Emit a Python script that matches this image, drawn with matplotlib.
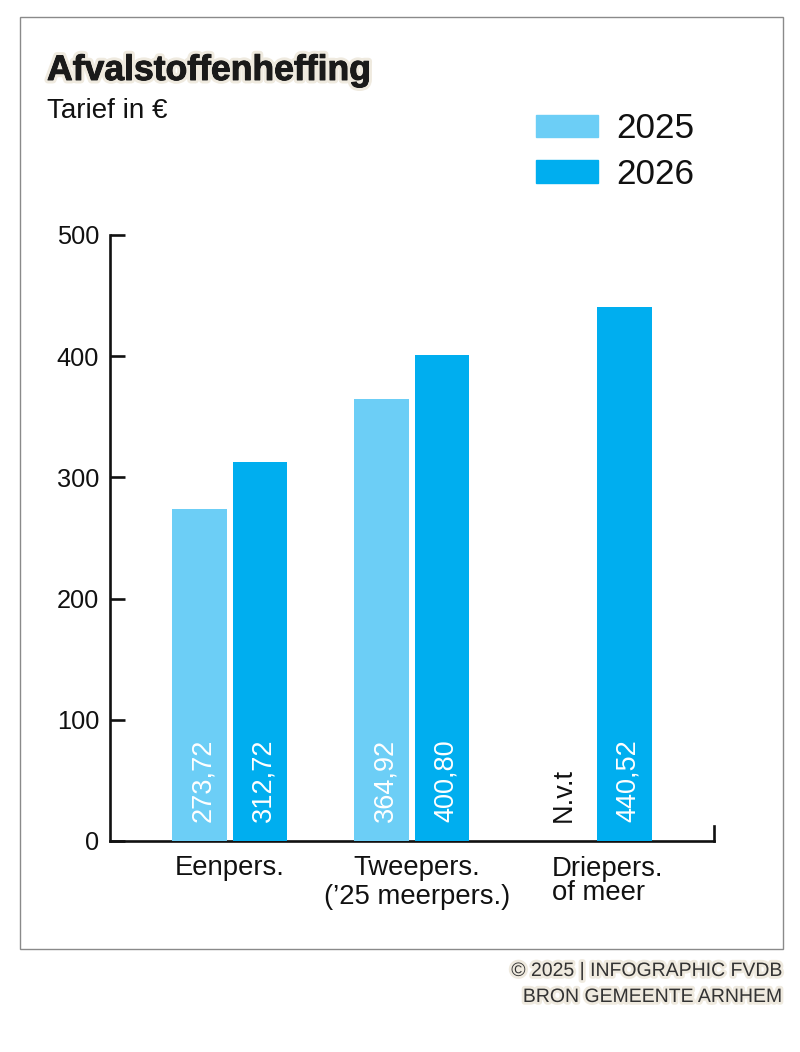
import matplotlib
matplotlib.use("Agg")
import matplotlib.pyplot as plt
import matplotlib.patheffects as pe
from matplotlib.patches import Rectangle

plt.rcParams['font.family'] = ['Liberation Sans', 'DejaVu Sans']

categories = ["Eenpers.", "Tweepers.\n(’25 meerpers.)", "Driepers.\nof meer"]
series_names = ["2025", "2026"]
values_2025 = [273.72, 364.92, None]
values_2026 = [312.72, 400.80, 440.52]
labels_2025 = ["273,72", "364,92", "N.v.t"]
labels_2026 = ["312,72", "400,80", "440,52"]
y_ticks = [0, 100, 200, 300, 400, 500]
title = "Afvalstoffenheffing"
subtitle = "Tarief in €"
footer = ["© 2025 | INFOGRAPHIC FVDB", "BRON GEMEENTE ARNHEM"]

C25, C26 = "#6ccef6", "#00aeef"
W, H = 800, 1052
fig = plt.figure(figsize=(W/100, H/100), dpi=100, facecolor="white")
fig.add_artist(Rectangle((20/W, 1-948.5/H), 763/W, 931.5/H, fill=False, ec="#8a8a8a", lw=1.0,
                         transform=fig.transFigure))

L, R, T, B = 109.5, 714, 235, 841
ax = fig.add_axes([L/W, 1-B/H, (R-L)/W, (B-T)/H])
ax.patch.set_alpha(0)
ax.set_xlim(-0.66, 2.66)
ax.set_ylim(0, 500)

bw, off = 0.30, 0.167
x = range(len(categories))
for i in x:
    has_25 = values_2025[i] is not None
    if has_25:
        ax.bar(i-off, values_2025[i], bw, color=C25, zorder=3, clip_on=False)
    ax.bar(i+off, values_2026[i], bw, color=C26, zorder=3, clip_on=False)
    ax.text(i-off+(0.021 if has_25 else 0.0), 15.5, labels_2025[i], rotation=90, ha="center", va="bottom", fontsize=19.5,
            color="white" if has_25 else "#111111", zorder=4)
    ax.text(i+off+0.021, 15.5, labels_2026[i], rotation=90, ha="center", va="bottom", fontsize=19.5,
            color="white", zorder=4)

ax.spines["top"].set_visible(False)
ax.spines["right"].set_bounds(0, 12)
for s in ("left", "bottom", "right"):
    ax.spines[s].set_linewidth(1.9)
    ax.spines[s].set_color("#111111")
    ax.spines[s].set_zorder(2)
ax.set_yticks(y_ticks)
ax.tick_params(axis="y", direction="in", length=11, width=1.9, color="#111111",
               labelsize=18.3, labelcolor="#111111", pad=7.5)
ax.set_xticks([0, 1, 2])
ax.set_xticklabels([])
ax.tick_params(axis="x", length=0)

# Category labels
ax.text(0, -11.5, categories[0], ha="center", va="top", fontsize=19.8, color="#111111")
ax.text(1.03, -11.5, categories[1], ha="center", va="top", fontsize=19.8, color="#111111", linespacing=1.15)
ax.text(1.77, -12, categories[2], ha="left", va="top", fontsize=19.8, color="#111111", linespacing=0.9,
        multialignment="left")

glow = [pe.withStroke(linewidth=5, foreground="#efeadf"), pe.withStroke(linewidth=0.7, foreground="#1a1a1a")]
fig.text(47/W, 1-80/H, title, fontsize=25.6, fontweight="bold", color="#1a1a1a", path_effects=glow, va="baseline")
fig.text(47/W, 1-118/H, subtitle, fontsize=20, color="#111111", va="baseline")

glow2 = [pe.withStroke(linewidth=4, foreground="#efeadf")]
fig.text(783/W, 1-976/H, footer[0], fontsize=14, color="#333333", ha="right", va="baseline", path_effects=glow2)
fig.text(783/W, 1-1002/H, footer[1], fontsize=14, color="#333333", ha="right", va="baseline", path_effects=glow2)

handles = [Rectangle((0, 0), 1, 1, color=C25), Rectangle((0, 0), 1, 1, color=C26)]
fig.legend(handles, series_names, loc="upper left", bbox_to_anchor=(536/W, 1-112.3/H), bbox_transform=fig.transFigure,
           frameon=False, fontsize=25.3, handlelength=1.77, handleheight=0.62, handletextpad=0.5,
           labelspacing=0.36, borderpad=0, borderaxespad=0, labelcolor="#111111")

fig.savefig("out.png", dpi=100, facecolor="white")
